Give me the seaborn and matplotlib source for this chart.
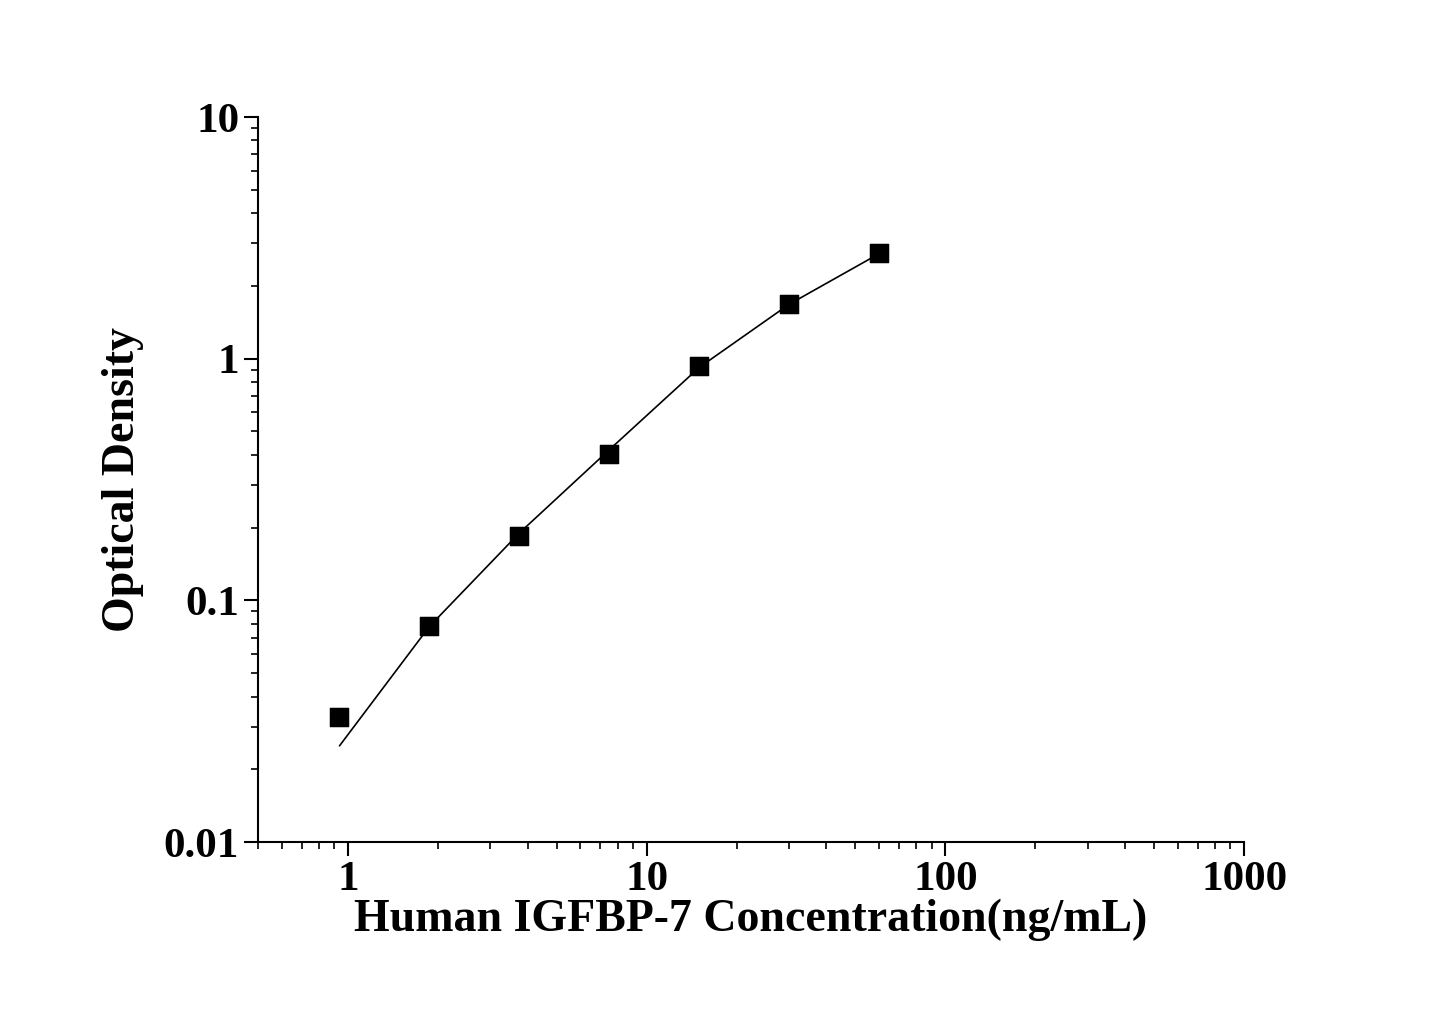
import matplotlib
matplotlib.use("Agg")
import numpy as np
import pandas as pd
import seaborn as sns
import matplotlib.pyplot as plt
from matplotlib.ticker import LogLocator, FixedLocator, FixedFormatter, NullFormatter

# Data
conc = [0.9375, 1.875, 3.75, 7.5, 15, 30, 60]
od = [0.033, 0.078, 0.185, 0.403, 0.93, 1.68, 2.73]
fit_od = [0.025, 0.078, 0.19, 0.42, 0.92, 1.68, 2.72]

df = pd.DataFrame({'conc': conc, 'od': od, 'fit': fit_od})

sns.set_theme(style="ticks")
plt.rcParams['font.family'] = ['Liberation Serif', 'DejaVu Serif']
plt.rcParams['font.weight'] = 'bold'
plt.rcParams['text.color'] = 'black'
plt.rcParams['axes.labelcolor'] = 'black'

fig = plt.figure(figsize=(14.45, 10.09), dpi=100)
ax = fig.add_axes([0.1785, 0.1655, 0.6825, 0.7185])

sns.lineplot(data=df, x='conc', y='fit', color='black', linewidth=1.2, ax=ax)
sns.scatterplot(data=df, x='conc', y='od', marker='s', s=180, color='black',
                edgecolor='black', ax=ax, zorder=3)

ax.set_xscale('log')
ax.set_yscale('log')
ax.set_xlim(0.5, 1000)
ax.set_ylim(0.01, 10)

xt = [1, 10, 100, 1000]
yt = [0.01, 0.1, 1, 10]
ax.xaxis.set_major_locator(FixedLocator(xt))
ax.xaxis.set_major_formatter(FixedFormatter(['1', '10', '100', '1000']))
ax.yaxis.set_major_locator(FixedLocator(yt))
ax.yaxis.set_major_formatter(FixedFormatter(['0.01', '0.1', '1', '10']))
ax.xaxis.set_minor_locator(LogLocator(base=10, subs=np.arange(2, 10)))
ax.yaxis.set_minor_locator(LogLocator(base=10, subs=np.arange(2, 10)))
ax.xaxis.set_minor_formatter(NullFormatter())
ax.yaxis.set_minor_formatter(NullFormatter())

for s in ['top', 'right']:
    ax.spines[s].set_visible(False)
for s in ['left', 'bottom']:
    ax.spines[s].set_linewidth(1.5)
    ax.spines[s].set_color('black')

ax.tick_params(which='major', direction='out', length=10, width=1.5, labelsize=31,
               colors='black', labelcolor='black')
ax.tick_params(which='minor', direction='out', length=5, width=1.2, colors='black')
for lab in ax.get_xticklabels() + ax.get_yticklabels():
    lab.set_fontweight('bold')

ax.set_xlabel('Human IGFBP-7 Concentration(ng/mL)', fontsize=33, fontweight='bold',
              labelpad=0, color='black')
ax.set_ylabel('Optical Density', fontsize=33, fontweight='bold', labelpad=14, color='black')

fig.savefig('out.png', dpi=100)
